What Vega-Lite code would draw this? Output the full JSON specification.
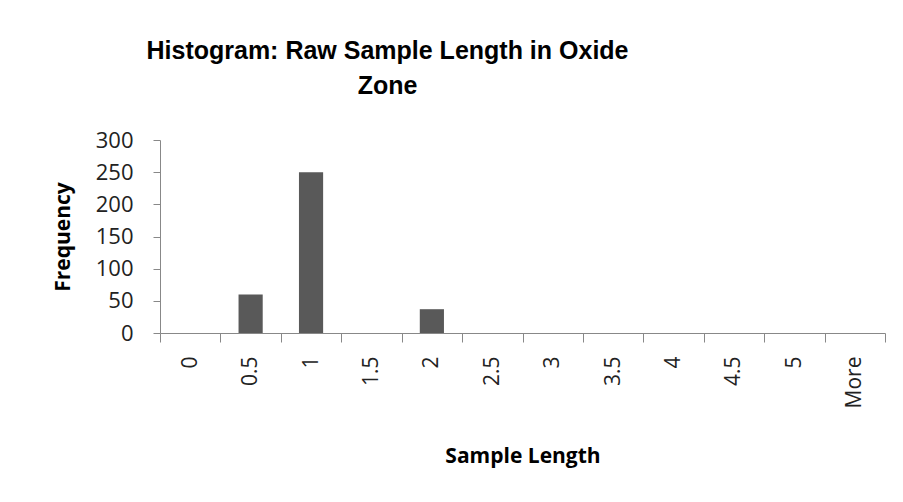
{
  "$schema": "https://vega.github.io/schema/vega-lite/v6.json",
  "width": 725,
  "height": 193,
  "autosize": {"type": "none"},
  "padding": {"left": 160, "top": 140, "right": 18, "bottom": 169},
  "background": "white",
  "title": {
    "text": ["Histogram:  Raw Sample Length in Oxide", "Zone"],
    "font": "Liberation Sans",
    "fontSize": 25,
    "fontWeight": "bold",
    "lineHeight": 35,
    "color": "black",
    "anchor": "middle",
    "frame": "group",
    "dx": -135,
    "offset": 30
  },
  "data": {
    "values": [
      {"bin": "0", "frequency": 0},
      {"bin": "0.5", "frequency": 60},
      {"bin": "1", "frequency": 250},
      {"bin": "1.5", "frequency": 0},
      {"bin": "2", "frequency": 37},
      {"bin": "2.5", "frequency": 0},
      {"bin": "3", "frequency": 0},
      {"bin": "3.5", "frequency": 0},
      {"bin": "4", "frequency": 0},
      {"bin": "4.5", "frequency": 0},
      {"bin": "5", "frequency": 0},
      {"bin": "More", "frequency": 0}
    ]
  },
  "mark": {"type": "bar", "color": "#595959", "width": {"band": 0.4}},
  "encoding": {
    "x": {
      "field": "bin",
      "type": "ordinal",
      "sort": null,
      "scale": {"paddingInner": 0, "paddingOuter": 0},
      "axis": {
        "title": "Sample Length",
        "titleFont": "Open Sans",
        "titleFontSize": 21,
        "titleFontWeight": "bold",
        "titleColor": "black",
        "titlePadding": 38,
        "labelAngle": -90,
        "labelFont": "Open Sans",
        "labelFontSize": 21,
        "labelColor": "#222",
        "labelPadding": 14,
        "tickBand": "extent",
        "tickSize": 9,
        "tickColor": "#888",
        "domainColor": "#888",
        "grid": false
      }
    },
    "y": {
      "field": "frequency",
      "type": "quantitative",
      "scale": {"domain": [0, 300]},
      "axis": {
        "title": "Frequency",
        "titleFont": "Open Sans",
        "titleFontSize": 21,
        "titleFontWeight": "bold",
        "titleColor": "black",
        "titlePadding": 22,
        "values": [0, 50, 100, 150, 200, 250, 300],
        "labelFont": "Open Sans",
        "labelFontSize": 22,
        "labelColor": "#222",
        "labelPadding": 20,
        "tickSize": 7,
        "tickColor": "#888",
        "domainColor": "#888",
        "grid": false
      }
    }
  },
  "config": {"view": {"stroke": null}}
}
